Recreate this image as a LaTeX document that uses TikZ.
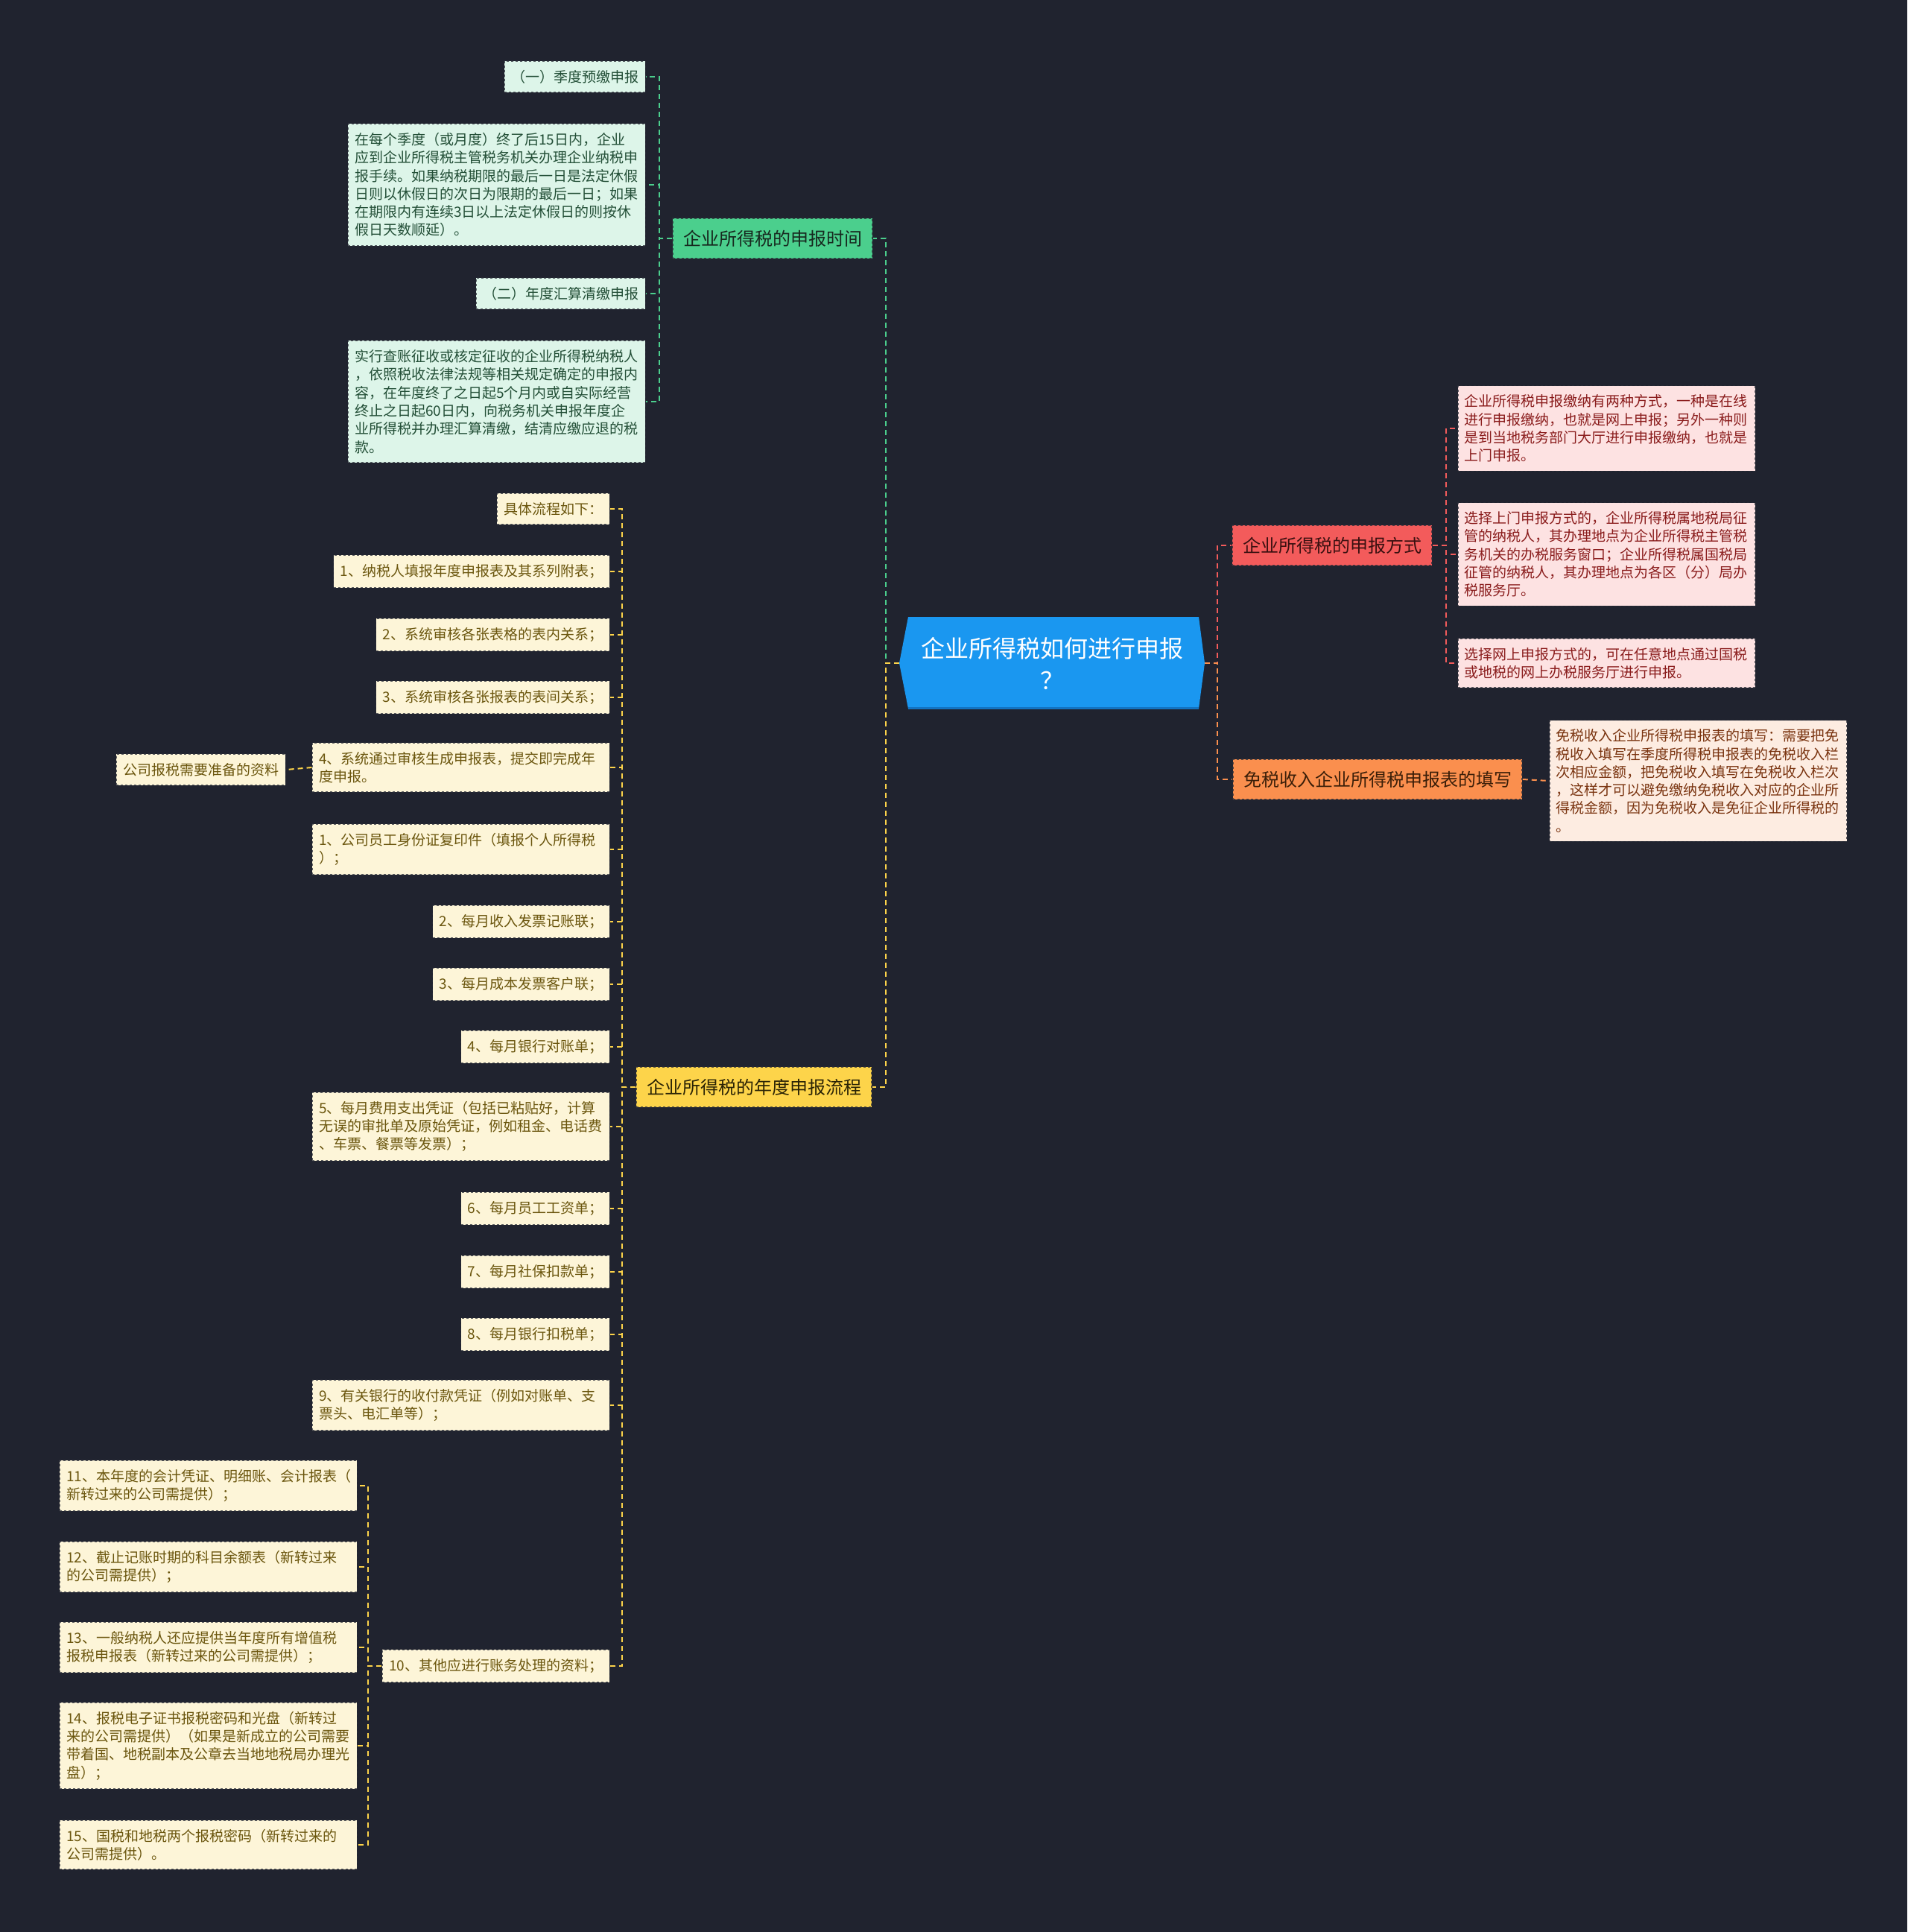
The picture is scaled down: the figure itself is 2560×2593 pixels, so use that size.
\documentclass[tikz,border=0pt]{standalone}
\usepackage{fontspec}
\setmainfont{Noto Sans CJK SC}
\usepackage{xcolor}
\usepackage{tikz}
\usetikzlibrary{calc}
\definecolor{bg}{HTML}{20232F}
\definecolor{edge}{HTML}{2A2D38}
\definecolor{rootfill}{HTML}{1A97F0}
\definecolor{rootedge}{HTML}{1273C2}
\definecolor{grn}{HTML}{4BCF8D}
\definecolor{grnlight}{HTML}{DDF5E9}
\definecolor{grntext}{HTML}{17291F}
\definecolor{grnsub}{HTML}{234F37}
\definecolor{rd}{HTML}{F35B5B}
\definecolor{rdlight}{HTML}{FDE2E2}
\definecolor{rdtext}{HTML}{3A1010}
\definecolor{rdsub}{HTML}{8A1C1C}
\definecolor{org}{HTML}{FA8F4E}
\definecolor{orglight}{HTML}{FDECE1}
\definecolor{orgtext}{HTML}{3A1E08}
\definecolor{orgsub}{HTML}{7A3410}
\definecolor{yel}{HTML}{FDD44A}
\definecolor{yellight}{HTML}{FDF5D8}
\definecolor{yeltext}{HTML}{2A2305}
\definecolor{yelsub}{HTML}{6B560E}

\begin{document}
\begin{tikzpicture}
    [x=1pt, y=-1pt,
     Box/.style={anchor=east, inner xsep=9pt, inner ysep=12pt, minimum height=41pt,
       draw=edge, draw opacity=0.75, dashed, line width=1.5pt, align=left,
       font=\fontsize{19}{24.3}\selectfont},
     Para/.style={Box, text width=381pt},
     Branch/.style={inner xsep=14pt, minimum height=54pt, draw=edge, draw opacity=0.75,
       dashed, line width=1.5pt, font=\fontsize{24}{30}\selectfont},
     Green box/.style={fill=grnlight, text=grnsub},
     Red box/.style={fill=rdlight, text=rdsub, anchor=west},
     Orange box/.style={fill=orglight, text=orgsub, anchor=west},
     Yellow box/.style={fill=yellight, text=yelsub},
     Link/.style={dashed, line width=2pt, dash pattern=on 7pt off 5pt},
     Link green/.style={Link, color=grn},
     Link red/.style={Link, color=rd},
     Link orange/.style={Link, color=org},
     Link yellow/.style={Link, color=yel}
    ]
\useasboundingbox (0,0) rectangle (2560,2593);
\fill[bg] (0,0) rectangle (2560,2593);

%root hexagon
\coordinate (rootc) at (1412,890);
\fill[rootfill] ($(rootc)+(-205,0)$) -- ($(rootc)+(-193,-62)$) -- ($(rootc)+(197,-62)$)
  -- ($(rootc)+(205,0)$) -- ($(rootc)+(197,61)$) -- ($(rootc)+(-193,61)$) -- cycle;
\draw[rootedge, line width=3pt] ($(rootc)+(-193,60)$) -- ($(rootc)+(197,60)$);
\node[minimum width=410pt, minimum height=122pt, align=center, text=white,
  font=\fontsize{32}{43}\selectfont] (root) at (rootc) {企业所得税如何进行申报\\？};

%branches
\node[Branch, fill=grn, text=grntext] (time) at (1037,320) {企业所得税的申报时间};
\node[Branch, fill=rd, text=rdtext] (way) at (1788,732) {企业所得税的申报方式};
\node[Branch, fill=org, text=orgtext] (exempt) at (1849,1046) {免税收入企业所得税申报表的填写};
\node[Branch, fill=yel, text=yeltext] (flow) at (1012,1459) {企业所得税的年度申报流程};

%declaration time
\node[Box, Green box] (time1) at (867,103) {（一）季度预缴申报};
\node[Para, Green box] (time2) at (867,248) {在每个季度（或月度）终了后15日内，企业\\应到企业所得税主管税务机关办理企业纳税申\\报手续。如果纳税期限的最后一日是法定休假\\日则以休假日的次日为限期的最后一日；如果\\在期限内有连续3日以上法定休假日的则按休\\假日天数顺延）。};
\node[Box, Green box] (time3) at (867,394) {（二）年度汇算清缴申报};
\node[Para, Green box] (time4) at (867,539) {实行查账征收或核定征收的企业所得税纳税人\\，依照税收法律法规等相关规定确定的申报内\\容，在年度终了之日起5个月内或自实际经营\\终止之日起60日内，向税务机关申报年度企\\业所得税并办理汇算清缴，结清应缴应退的税\\款。};

%declaration way
\node[Para, Red box] (way1) at (1956,575) {企业所得税申报缴纳有两种方式，一种是在线\\进行申报缴纳，也就是网上申报；另外一种则\\是到当地税务部门大厅进行申报缴纳，也就是\\上门申报。};
\node[Para, Red box] (way2) at (1956,744) {选择上门申报方式的，企业所得税属地税局征\\管的纳税人，其办理地点为企业所得税主管税\\务机关的办税服务窗口；企业所得税属国税局\\征管的纳税人，其办理地点为各区（分）局办\\税服务厅。};
\node[Para, Red box] (way3) at (1956,890) {选择网上申报方式的，可在任意地点通过国税\\或地税的网上办税服务厅进行申报。};

%exempt income
\node[Para, Orange box] (exempt1) at (2079,1048) {免税收入企业所得税申报表的填写：需要把免\\税收入填写在季度所得税申报表的免税收入栏\\次相应金额，把免税收入填写在免税收入栏次\\，这样才可以避免缴纳免税收入对应的企业所\\得税金额，因为免税收入是免征企业所得税的\\。};

%annual flow
\node[Box, Yellow box] (step0) at (819,683) {具体流程如下：};
\node[Box, Yellow box] (step1) at (819,767) {1、纳税人填报年度申报表及其系列附表；};
\node[Box, Yellow box] (step2) at (819,852) {2、系统审核各张表格的表内关系；};
\node[Box, Yellow box] (step3) at (819,936) {3、系统审核各张报表的表间关系；};
\node[Para, Yellow box] (step4) at (819,1030) {4、系统通过审核生成申报表，提交即完成年\\度申报。};
\node[Box, Yellow box] (docs) at (384,1033) {公司报税需要准备的资料};
\node[Para, Yellow box] (item1) at (819,1140) {1、公司员工身份证复印件（填报个人所得税\\）；};
\node[Box, Yellow box] (item2) at (819,1237) {2、每月收入发票记账联；};
\node[Box, Yellow box] (item3) at (819,1321) {3、每月成本发票客户联；};
\node[Box, Yellow box] (item4) at (819,1405) {4、每月银行对账单；};
\node[Para, Yellow box] (item5) at (819,1512) {5、每月费用支出凭证（包括已粘贴好，计算\\无误的审批单及原始凭证，例如租金、电话费\\、车票、餐票等发票）；};
\node[Box, Yellow box] (item6) at (819,1622) {6、每月员工工资单；};
\node[Box, Yellow box] (item7) at (819,1707) {7、每月社保扣款单；};
\node[Box, Yellow box] (item8) at (819,1791) {8、每月银行扣税单；};
\node[Para, Yellow box] (item9) at (819,1886) {9、有关银行的收付款凭证（例如对账单、支\\票头、电汇单等）；};
\node[Box, Yellow box] (item10) at (819,2236) {10、其他应进行账务处理的资料；};
\node[Para, Yellow box] (item11) at (480,1994) {11、本年度的会计凭证、明细账、会计报表（\\新转过来的公司需提供）；};
\node[Para, Yellow box] (item12) at (480,2103) {12、截止记账时期的科目余额表（新转过来\\的公司需提供）；};
\node[Para, Yellow box] (item13) at (480,2211) {13、一般纳税人还应提供当年度所有增值税\\报税申报表（新转过来的公司需提供）；};
\node[Para, Yellow box] (item14) at (480,2343) {14、报税电子证书报税密码和光盘（新转过\\来的公司需提供）（如果是新成立的公司需要\\带着国、地税副本及公章去当地地税局办理光\\盘）；};
\node[Para, Yellow box] (item15) at (480,2476) {15、国税和地税两个报税密码（新转过来的\\公司需提供）。};

%connectors
\draw[Link green] (root.west) -- ++(-18,0) |- (time.east);
\draw[Link yellow] (root.west) -- ++(-18,0) |- (flow.east);
\draw[Link red] (root.east) -- ++(17,0) |- (way.west);
\draw[Link orange] (root.east) -- ++(17,0) |- (exempt.west);
\foreach \n in {time1,time2,time3,time4}
  \draw[Link green] (time.west) -- ++(-17,0) |- (\n.east);
\foreach \n in {way1,way2,way3}
  \draw[Link red] (way.east) -- ++(18,0) |- (\n.west);
\draw[Link orange] (exempt.east) -- (exempt1.west);
\foreach \n in {step0,step1,step2,step3,step4,item1,item2,item3,item4,item5,item6,item7,item8,item9,item10}
  \draw[Link yellow] (flow.west) -- ++(-18,0) |- (\n.east);
\draw[Link yellow] (step4.west) -- (docs.east);
\foreach \n in {item11,item12,item13,item14,item15}
  \draw[Link yellow] (item10.west) -- ++(-18,0) |- (\n.east);

\end{tikzpicture}
\end{document}
